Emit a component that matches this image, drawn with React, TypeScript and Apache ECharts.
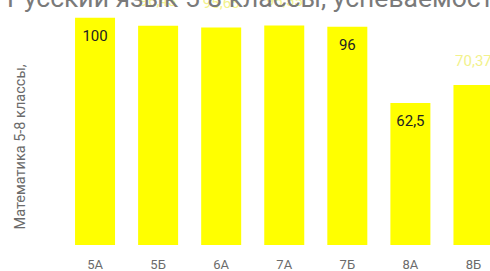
import React, { useEffect, useRef } from "react";
import * as echarts from "echarts";

const titleText = "Русский язык 5-8 классы, успеваемость";
const yAxisTitle = "Математика 5-8 классы,";
const categories = ["5А", "5Б", "6А", "7А", "7Б", "8А", "8Б"];
const values = [100, 96.43, 95.65, 96.55, 96, 62.5, 70.37];
const insideLabel = [true, false, false, false, true, true, false];

export default function App() {
  const ref = useRef<HTMLDivElement>(null);
  useEffect(() => {
    if (!ref.current) return;
    const chart = echarts.init(ref.current, undefined, { renderer: "svg" });
    const fmt = (v: number) => String(v).replace(".", ",");
    chart.setOption({
      animation: false,
      textStyle: { fontFamily: "Roboto" },
      title: {
        text: titleText,
        left: 2,
        top: -21,
        textStyle: { fontSize: 26.5, fontWeight: "normal", color: "#7a7a7a", fontFamily: "Roboto" },
      },
      grid: { left: 63.5, right: 0, top: 17.7, bottom: 24.3, containLabel: false },
      xAxis: {
        type: "category",
        data: categories,
        axisLine: { show: false },
        axisTick: { show: false },
        axisLabel: { color: "#6b6b6b", fontSize: 13, margin: 13 },
      },
      yAxis: {
        type: "value",
        min: 0,
        max: 100,
        axisLabel: { show: false },
        splitLine: { show: false },
        axisLine: { show: false },
        axisTick: { show: false },
      },
      graphic: [
        {
          type: "text",
          x: 20,
          y: 147,
          rotation: Math.PI / 2,
          style: {
            text: yAxisTitle,
            fill: "#6b6b6b",
            fontSize: 14.5,
            fontFamily: "Roboto",
            align: "center",
            verticalAlign: "middle",
          },
        },
      ],
      series: [
        {
          type: "bar",
          barWidth: 40,
          data: values.map((v, i) => ({
            value: v,
            itemStyle: { color: "#ffff00" },
            label: insideLabel[i]
              ? { show: true, position: "insideTop", distance: 10.5, color: "#222", fontSize: 15, formatter: () => fmt(v) }
              : { show: true, position: "top", distance: 17, color: "#f2f28c", fontSize: 15, formatter: () => fmt(v) },
          })),
        },
      ],
    });
    return () => chart.dispose();
  }, []);
  return (
    <div style={{ position: "fixed", left: 0, top: 0, width: 490, height: 271, overflow: "hidden", background: "#fff" }}>
      <div ref={ref} style={{ width: 505, height: 271 }} />
    </div>
  );
}
